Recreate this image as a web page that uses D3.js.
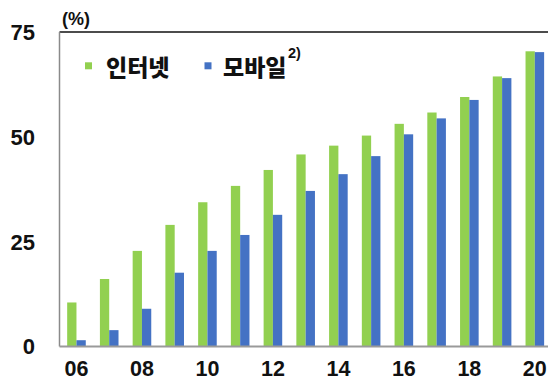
<!DOCTYPE html>
<html>
<head>
<meta charset="utf-8">
<script src="https://cdn.jsdelivr.net/npm/d3@7"></script>
<style>
  html, body { margin: 0; padding: 0; background: #fff; }
  svg { display: block; }
  text { font-family: "Liberation Sans", Arial, "Noto Sans CJK KR", sans-serif; font-weight: 700; fill: #111; }
  .kr { font-family: "Noto Sans CJK KR", "Liberation Sans", sans-serif; font-weight: 900; }
</style>
</head>
<body>
<svg id="chart" width="548" height="379"></svg>
<script>
// Years (2006–2020) and usage rates (%)
const years = ["06","07","08","09","10","11","12","13","14","15","16","17","18","19","20"];
const internet = [10.5, 16.1, 22.8, 29.0, 34.4, 38.3, 42.1, 45.8, 47.9, 50.3, 53.1, 55.8, 59.5, 64.4, 70.4];
const mobile   = [1.5, 3.9, 9.0, 17.6, 22.8, 26.6, 31.4, 37.1, 41.1, 45.4, 50.6, 54.4, 58.8, 64.0, 70.2];
const seriesNames = ["인터넷", "모바일"];
const seriesColors = ["#92D050", "#4472C4"];
const yTicks = [0, 25, 50, 75];
const xTickLabels = ["06","08","10","12","14","16","18","20"];

const svg = d3.select("#chart");
const plotLeft = 59.5, plotRight = 550.6, plotTop = 32, plotBottom = 346.5;

const x0 = d3.scaleBand().domain(years).range([plotLeft + 0.6, plotRight + 0.6])
  .paddingInner(0.432).paddingOuter(0.216);
const x1 = d3.scaleBand().domain(seriesNames).range([0, x0.bandwidth()]);
const y = d3.scaleLinear().domain([0, 75]).range([plotBottom, plotTop]);

const data = years.map((yr, i) => ({ year: yr, values: [internet[i], mobile[i]] }));

// Bars
const groups = svg.append("g").selectAll("g").data(data).join("g")
  .attr("transform", d => `translate(${x0(d.year)},0)`);
groups.selectAll("rect")
  .data(d => d.values.map((v, k) => ({ name: seriesNames[k], v, k })))
  .join("rect")
  .attr("x", d => x1(d.name))
  .attr("width", x1.bandwidth())
  .attr("y", d => y(d.v))
  .attr("height", d => y(0) - y(d.v))
  .attr("fill", d => seriesColors[d.k]);

// Frame: black top rule, grey left and bottom axes
svg.append("line").attr("x1", plotLeft).attr("x2", 548).attr("y1", plotTop).attr("y2", plotTop)
  .attr("stroke", "#111").attr("stroke-width", 1.5);
svg.append("line").attr("x1", plotLeft).attr("x2", plotLeft).attr("y1", plotTop).attr("y2", plotBottom)
  .attr("stroke", "#8a8a8a").attr("stroke-width", 1.5);
svg.append("line").attr("x1", plotLeft).attr("x2", 548).attr("y1", plotBottom).attr("y2", plotBottom)
  .attr("stroke", "#9a9a9a").attr("stroke-width", 2);

// Y tick labels
svg.append("g").selectAll("text").data(yTicks).join("text")
  .attr("x", 35).attr("y", d => y(d)).attr("dy", "0.36em")
  .attr("text-anchor", "end").attr("font-size", 22)
  .text(d => d);

// X tick labels (every other year)
svg.append("g").selectAll("text").data(xTickLabels).join("text")
  .attr("x", d => x0(d) + x0.bandwidth() / 2).attr("y", 376)
  .attr("text-anchor", "middle").attr("font-size", 21.5)
  .text(d => d);

// Unit
svg.append("text").attr("x", 62).attr("y", 25).attr("font-size", 18).text("(%)");

// Legend
const legend = [
  { sq: 85, tx: 106, name: seriesNames[0], color: seriesColors[0] },
  { sq: 204.5, tx: 223, name: seriesNames[1], color: seriesColors[1] }
];
const lg = svg.append("g");
legend.forEach(l => {
  lg.append("rect").attr("x", l.sq).attr("y", 62.3).attr("width", 7).attr("height", 7).attr("fill", l.color);
  lg.append("text").attr("class", "kr").attr("x", l.tx).attr("y", 75.5).attr("font-size", 23).text(l.name);
});
lg.append("text").attr("x", 288).attr("y", 58).attr("font-size", 14.5).text("2)");
</script>
</body>
</html>
